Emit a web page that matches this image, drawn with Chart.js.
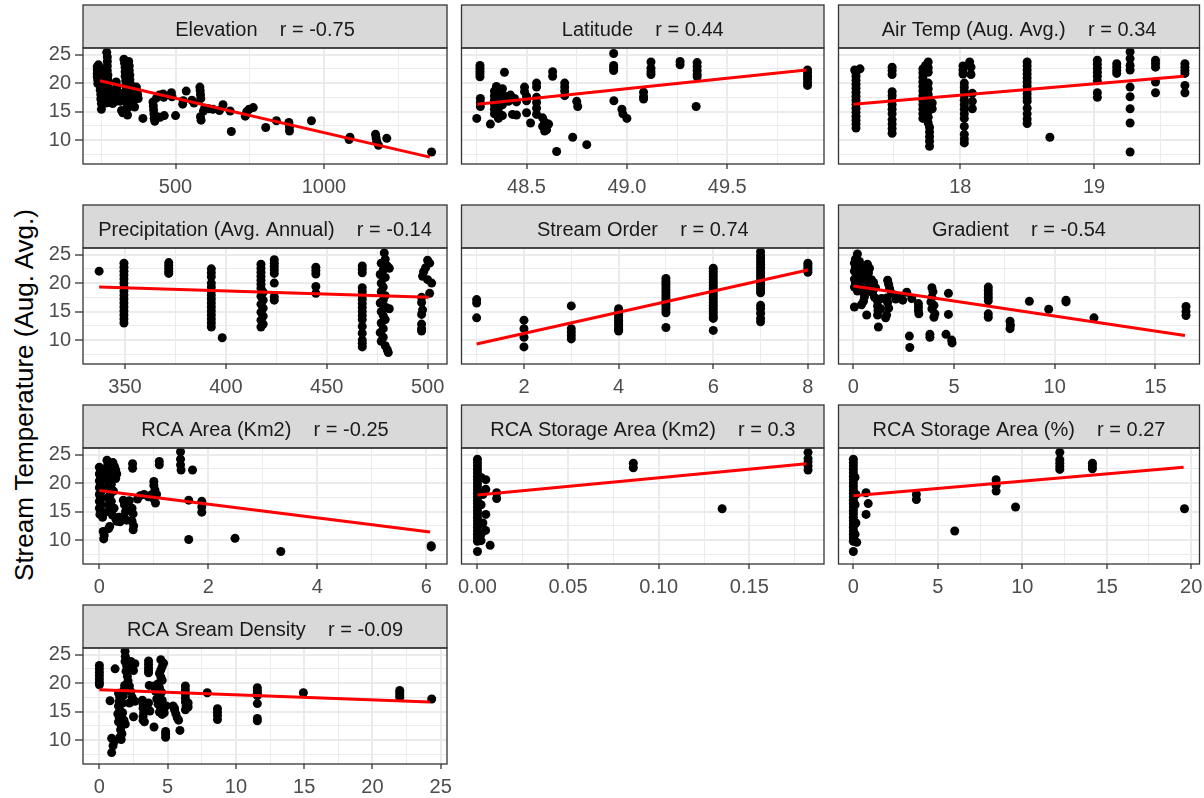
<!DOCTYPE html>
<html>
<head>
<meta charset="utf-8">
<title>Stream temperature vs. site attributes</title>
<script src="https://cdn.jsdelivr.net/npm/chart.js@4.4.1/dist/chart.umd.min.js"></script>
<style>
  html, body { margin: 0; padding: 0; background: #ffffff; }
  body { width: 1204px; height: 798px; position: relative; overflow: hidden; }
  .panel { position: absolute; }
  #ytitle {
    position: absolute; left: 24px; top: 395px;
    transform: translate(-50%, -50%) rotate(-90deg);
    font: 26px "Liberation Sans", Arial, sans-serif; line-height: 1;
    color: #000000; white-space: nowrap;
  }
</style>
</head>
<body>
<div id="ytitle">Stream Temperature (Aug. Avg.)</div>
<script>
// ---- facet labels -------------------------------------------------------
const panelTitles = ['Elevation', 'Latitude', 'Air Temp (Aug. Avg.)',
  'Precipitation (Avg. Annual)', 'Stream Order', 'Gradient',
  'RCA Area (Km2)', 'RCA Storage Area (Km2)', 'RCA Storage Area (%)',
  'RCA Sream Density'];
const rValues = ['-0.75', '0.44', '0.34', '-0.14', '0.74', '-0.54', '-0.25', '0.3', '0.27', '-0.09'];

// ---- shared y scale (stream temperature) --------------------------------
const tempRange = [5.8, 26.16];
const tempTicks = [10, 15, 20, 25];
const tempLabels = ['10', '15', '20', '25'];
const tempMinor = [7.5, 12.5, 17.5, 22.5];

// ---- Elevation ----------------------------------------------------------
const elevationRange = [188, 1415];
const elevationTicks = [500, 1000];
const elevationLabels = ['500', '1000'];
const elevationMinor = [250, 750, 1250];
const elevationFit = [[245, 20.4], [1357, 7.0]];
const elevationPts = [
  [236,22.9],[236,22.3],[236,21.7],[236,21.1],[238,20.5],[238,19.9],[240,23.2],[242,22.6],[242,21.9],[244,21.2],
  [244,20.4],[246,19.6],[246,18.8],[248,18.0],[248,17.2],[250,16.4],[250,15.4],[252,22.0],[254,21.0],[254,20.1],
  [262,19.0],[262,18.2],[262,17.4],[265,16.5],[268,25.4],[270,24.6],[270,23.8],[270,23.0],[270,22.2],[272,21.4],
  [272,20.6],[272,19.8],[274,19.0],[274,18.2],[276,17.4],[278,16.6],[282,18.0],[285,17.2],[288,16.4],[292,18.6],
  [295,17.6],[298,16.8],[300,20.2],[302,19.4],[308,18.4],[310,17.6],[314,16.8],[318,15.2],[322,14.8],[326,24.2],
  [328,23.5],[330,22.8],[330,22.0],[330,21.2],[332,20.4],[332,19.6],[334,18.8],[334,18.0],[336,17.2],[336,16.4],
  [338,15.6],[338,14.4],[342,23.8],[344,23.0],[344,22.2],[346,21.4],[346,20.6],[348,19.8],[348,19.0],[350,18.2],
  [350,17.4],[352,16.6],[355,19.4],[357,18.6],[358,17.8],[360,17.0],[362,15.8],[368,19.3],[370,18.6],[372,18.0],
  [374,17.3],[390,13.8],[424,16.7],[425,16.0],[426,15.3],[427,14.6],[428,13.8],[430,13.3],[436,17.4],[438,14.1],
  [445,17.9],[448,14.0],[458,18.1],[460,17.5],[462,14.3],[486,18.3],[488,17.6],[500,14.3],[524,16.3],[526,16.9],
  [536,18.6],[555,17.0],[562,16.5],[582,19.3],[583,18.7],[584,18.0],[585,17.3],[584,14.1],[586,13.5],[594,15.1],
  [598,15.6],[612,15.5],[626,15.4],[648,15.2],[660,16.2],[684,15.1],[688,11.5],[735,14.2],[740,15.0],[748,15.4],
  [762,15.7],[804,12.2],[840,13.4],[882,13.1],[884,12.3],[884,11.6],[958,13.4],[1085,10.1],[1088,10.5],[1174,11.0],
  [1176,10.4],[1178,9.8],[1184,9.1],[1212,10.3],[1363,7.9]
];

// ---- Latitude -----------------------------------------------------------
const latitudeRange = [48.176, 49.982];
const latitudeTicks = [48.5, 49.0, 49.5];
const latitudeLabels = ['48.5', '49.0', '49.5'];
const latitudeMinor = [48.25, 48.75, 49.25, 49.75];
const latitudeFit = [[48.255, 16.3], [49.894, 22.3]];
const latitudePts = [
  [48.268,23.1],[48.268,22.6],[48.268,22.1],[48.268,21.6],[48.268,21.1],[48.27,17.3],[48.27,16.6],[48.27,15.9],
  [48.252,13.8],[48.32,12.8],[48.34,18.6],[48.34,17.8],[48.34,17.0],[48.34,16.2],[48.34,15.4],[48.34,14.6],
  [48.35,19.4],[48.36,18.2],[48.36,17.3],[48.36,16.4],[48.36,15.5],[48.36,14.6],[48.36,13.8],[48.38,19.0],
  [48.38,18.0],[48.38,17.1],[48.38,16.2],[48.38,14.3],[48.39,21.9],[48.40,17.6],[48.41,16.8],[48.42,17.9],
  [48.43,14.5],[48.44,17.3],[48.45,14.4],[48.45,16.7],[48.49,19.3],[48.49,18.5],[48.50,17.7],[48.50,16.9],
  [48.50,14.8],[48.52,13.0],[48.55,20.0],[48.55,19.3],[48.55,17.5],[48.55,16.6],[48.55,15.6],[48.55,14.5],
  [48.58,13.9],[48.59,13.2],[48.58,12.4],[48.60,11.8],[48.59,11.6],[48.61,12.8],[48.63,22.0],[48.63,21.2],
  [48.65,8.0],[48.69,20.0],[48.69,19.3],[48.69,18.6],[48.69,17.8],[48.73,10.5],[48.75,16.8],[48.755,15.9],
  [48.80,9.2],[48.934,25.2],[48.934,23.1],[48.934,22.7],[48.934,22.2],[48.935,16.9],[48.975,15.4],[48.98,14.6],
  [49.0,13.8],[49.083,18.4],[49.083,17.6],[49.083,17.2],[49.12,23.7],[49.12,22.6],[49.12,22.0],[49.12,21.5],
  [49.265,23.8],[49.265,23.2],[49.35,23.6],[49.35,22.9],[49.35,22.2],[49.35,21.5],[49.35,21.1],[49.345,15.9],
  [49.9,22.3],[49.9,21.8],[49.9,21.2],[49.9,20.7],[49.9,20.1],[49.9,19.6]
];

// ---- Air temperature ----------------------------------------------------
const airRange = [17.089, 19.789];
const airTicks = [18, 19];
const airLabels = ['18', '19'];
const airMinor = [17.5, 18.5, 19.5];
const airFit = [[17.2, 16.3], [19.67, 21.2]];
const airPts = [
  [17.21,22.3],[17.22,21.8],[17.22,21.2],[17.22,20.5],[17.22,19.8],[17.22,19.1],[17.22,18.4],[17.22,17.7],
  [17.22,17.0],[17.22,16.3],[17.22,15.6],[17.22,14.9],[17.22,14.2],[17.22,13.5],[17.22,12.8],[17.22,12.1],
  [17.25,22.5],[17.49,22.8],[17.49,22.2],[17.49,21.5],[17.49,18.5],[17.49,17.8],[17.49,17.0],[17.49,16.2],
  [17.49,15.4],[17.49,14.6],[17.49,13.6],[17.49,12.8],[17.49,12.0],[17.49,11.2],
  [17.72,22.5],[17.72,21.8],[17.72,21.0],[17.72,20.2],[17.72,19.4],[17.72,18.6],[17.72,17.8],[17.72,17.0],
  [17.72,16.2],[17.72,15.4],[17.72,14.6],[17.72,13.8],[17.74,23.1],[17.76,23.7],[17.76,22.7],[17.76,21.9],
  [17.76,20.0],[17.76,19.0],[17.76,18.0],[17.76,17.0],[17.76,16.0],[17.76,15.0],[17.76,14.0],[17.76,13.0],
  [17.77,12.2],[17.77,11.4],[17.77,10.6],[17.77,9.8],[17.77,8.9],[17.79,16.5],[17.79,15.5],
  [18.02,23.0],[18.02,22.3],[18.02,21.6],[18.03,20.0],[18.03,19.3],[18.03,18.6],[18.03,17.8],[18.03,17.0],
  [18.03,16.2],[18.03,15.4],[18.03,14.6],[18.03,13.8],[18.03,12.4],[18.03,11.0],[18.03,10.2],[18.03,9.5],
  [18.07,23.7],[18.08,22.8],[18.08,21.5],[18.09,18.2],[18.09,16.8],[18.09,15.5],
  [18.5,23.7],[18.5,23.0],[18.5,22.3],[18.5,21.6],[18.5,20.9],[18.5,20.2],[18.5,19.5],[18.5,18.8],
  [18.5,18.1],[18.5,17.4],[18.5,16.8],[18.5,15.6],[18.5,14.6],[18.5,13.7],[18.5,12.9],[18.67,10.5],
  [19.025,24.0],[19.025,23.3],[19.025,22.6],[19.025,21.9],[19.025,21.2],[19.025,20.4],[19.025,18.3],[19.025,17.5],
  [19.17,23.4],[19.17,22.8],[19.17,22.2],[19.17,21.7],
  [19.27,25.5],[19.27,24.3],[19.27,23.1],[19.27,22.3],[19.27,19.3],[19.27,17.6],[19.27,15.5],[19.27,13.0],[19.27,7.9],
  [19.46,24.0],[19.46,23.4],[19.46,22.8],[19.46,20.2],[19.46,18.3],
  [19.68,23.4],[19.68,22.8],[19.68,22.2],[19.68,21.7],[19.68,19.6],[19.68,18.3]
];

// ---- Precipitation ------------------------------------------------------
const precipRange = [329.2, 509.6];
const precipTicks = [350, 400, 450, 500];
const precipLabels = ['350', '400', '450', '500'];
const precipMinor = [375, 425, 475];
const precipFit = [[337.2, 19.3], [500.5, 17.5]];
const precipPts = [
  [337.2,22.1],
  [349.5,23.5],[349.5,22.8],[349.5,22.1],[349.5,21.4],[349.5,20.7],[349.5,20.0],[349.5,19.3],[349.5,18.6],
  [349.5,17.9],[349.5,17.2],[349.5,16.5],[349.5,15.8],[349.5,15.1],[349.5,14.4],[349.5,13.7],[349.5,13.0],
  [371.7,23.6],[371.7,23.1],[371.7,22.6],[371.7,22.1],[371.7,21.7],
  [392.8,22.5],[392.8,21.8],[392.8,21.1],[392.8,20.0],[392.8,19.3],[392.8,18.6],[392.8,17.9],[392.8,17.2],
  [392.8,16.5],[392.8,15.8],[392.8,15.1],[392.8,14.4],[392.8,13.7],[392.8,13.0],[392.8,12.3],[398.2,10.4],
  [417.4,23.3],[417.4,22.6],[417.4,21.9],[417.4,21.2],[417.4,20.5],[417.4,19.8],[417.4,19.1],[418.5,18.4],
  [417.4,17.7],[418.5,17.0],[417.4,16.3],[418.5,15.6],[417.4,14.9],[418.5,14.2],[417.4,13.5],[418.5,12.8],[417.4,12.3],
  [424,24.1],[424,23.5],[424,22.9],[424,22.3],[424,21.7],[424,20.0],[424,17.6],[424,17.0],
  [444.6,22.8],[444.6,22.2],[444.6,21.6],[444.6,19.4],[444.6,18.2],
  [467.6,23.0],[467.6,22.4],[467.6,21.8],[467.6,19.2],[467.6,18.5],[467.6,17.8],[467.6,17.1],[467.6,16.4],
  [467.6,15.7],[467.6,15.0],[467.6,14.3],[467.6,13.6],[467.6,12.4],[467.6,11.2],[467.6,10.0],[467.6,9.4],[467.6,8.8],
  [478.5,25.3],[479,24.2],[477,23.5],[480,23.0],[478,22.3],[476.5,21.5],[479,21.0],[477,20.0],[478,19.3],
  [477,18.5],[479,17.8],[478,17.0],[476.5,16.5],[479.5,15.7],[477,15.0],[478,14.3],[479,13.6],[477,13.0],
  [478,12.0],[476.5,11.3],[478,10.5],[477,9.8],[479,9.0],[480,8.3],[480.5,7.8],[481,22.6],[481,15.5],
  [500,24.0],[501,23.5],[499,22.7],[498,22.0],[497.5,21.2],[500,20.6],[502,20.0],[501,18.2],[497,17.5],
  [497,16.6],[497.5,15.3],[497,14.5],[497,12.8],[497,12.0],[497,11.6]
];

// ---- Stream order -------------------------------------------------------
const orderRange = [0.68, 8.34];
const orderTicks = [2, 4, 6, 8];
const orderLabels = ['2', '4', '6', '8'];
const orderMinor = [1, 3, 5, 7];
const orderFit = [[1, 9.3], [8, 22.3]];
const orderPts = [
  [1,17.1],[1,16.5],[1,13.9],
  [2,13.5],[2,12.0],[2,10.5],[2,8.8],
  [3,16.0],[3,12.0],[3,11.4],[3,10.8],[3,10.2],
  [4,15.5],[4,15.1],[4,14.7],[4,14.3],[4,13.9],[4,13.5],[4,13.1],[4,12.7],[4,12.3],[4,11.9],[4,11.6],
  [5,20.8],[5,20.3],[5,19.8],[5,19.3],[5,18.8],[5,18.3],[5,17.8],[5,17.3],[5,16.8],[5,16.3],[5,15.8],
  [5,15.3],[5,14.8],[5,12.2],
  [6,22.6],[6,22.1],[6,21.6],[6,21.1],[6,20.6],[6,20.1],[6,19.6],[6,19.1],[6,18.6],[6,18.1],[6,17.6],
  [6,17.1],[6,16.6],[6,16.1],[6,15.6],[6,15.1],[6,14.6],[6,14.1],[6,13.8],[6,11.7],
  [7,25.5],[7,24.8],[7,24.3],[7,23.8],[7,23.3],[7,22.8],[7,22.3],[7,21.8],[7,21.3],[7,20.8],[7,20.3],
  [7,19.8],[7,19.3],[7,18.8],[7,18.3],[7,16.1],[7,15.5],[7,14.7],[7,13.8],[7,13.2],
  [8,23.5],[8,23.1],[8,22.7],[8,22.3],[8,21.9]
];

// ---- Gradient -----------------------------------------------------------
const gradientRange = [-0.74, 17.19];
const gradientTicks = [0, 5, 10, 15];
const gradientLabels = ['0', '5', '10', '15'];
const gradientMinor = [2.5, 7.5, 12.5];
const gradientFit = [[0, 19.5], [16.47, 10.8]];
const gradientPts = [
  [0.2,25.1],[0.1,24.2],[0.05,23.5],[0.1,22.8],[0.05,22.1],[0.15,21.4],[0.05,20.7],[0.1,20.0],[0.05,19.3],
  [0.2,18.6],[0.3,23.8],[0.35,23.0],[0.3,22.2],[0.4,21.4],[0.35,20.6],[0.3,19.8],[0.45,19.0],[0.5,18.3],
  [0.6,22.5],[0.7,23.3],[0.8,22.6],[0.75,21.8],[0.6,21.0],[0.7,20.3],[0.8,19.5],[0.65,18.6],[0.55,17.6],
  [0.5,16.8],[0.4,16.2],[0.05,15.8],[0.66,14.4],
  [0.9,20.6],[1.0,20.1],[1.1,19.2],[0.95,18.3],[1.05,17.5],[1.2,16.8],[1.2,16.0],[1.22,15.2],[1.2,14.4],
  [1.24,12.3],[1.35,15.5],[1.4,17.3],
  [1.7,20.5],[1.75,19.8],[1.8,19.0],[1.9,18.2],[1.65,17.4],[1.7,16.6],[1.75,15.6],[1.65,14.4],[1.6,13.9],
  [2.1,17.2],[2.3,17.6],[2.45,17.0],[2.65,18.4],[2.9,17.3],[2.78,10.7],[2.8,8.7],
  [3.23,16.4],[3.23,15.8],[3.23,15.2],[3.25,14.6],
  [3.8,11.0],[3.8,10.5],[3.9,19.2],[3.95,18.5],[3.9,17.5],[3.85,16.7],[4.0,16.1],[3.9,15.5],[4.05,14.6],[4.0,14.0],
  [4.6,11.0],[4.72,18.2],[4.72,14.5],[4.88,10.0],[4.9,9.5],
  [6.7,19.3],[6.7,18.7],[6.7,18.1],[6.7,17.5],[6.7,16.9],[6.7,14.6],[6.7,14.0],
  [7.78,13.3],[7.8,12.6],[7.78,12.0],[8.74,16.8],[9.7,15.4],[10.56,17.0],[10.56,16.7],[11.95,13.9],
  [16.52,15.9],[16.52,15.0],[16.52,14.3]
];

// ---- RCA area -----------------------------------------------------------
const areaRange = [-0.3, 6.38];
const areaTicks = [0, 2, 4, 6];
const areaLabels = ['0', '2', '4', '6'];
const areaMinor = [1, 3, 5];
const areaFit = [[0, 18.7], [6.07, 11.4]];
const areaPts = [
  [0.0,22.8],[0.02,22.2],[0.0,21.6],[0.03,21.0],[0.0,20.4],[0.02,19.8],[0.0,19.2],[0.04,18.6],[0.0,18.0],
  [0.02,17.4],[0.0,16.8],[0.04,16.2],[0.0,15.6],[0.03,15.0],[0.01,14.5],[0.06,14.0],[0.07,11.5],[0.09,10.8],[0.08,10.2],
  [0.14,24.0],[0.16,23.4],[0.14,22.8],[0.18,22.2],[0.14,21.6],[0.2,21.0],[0.16,20.4],[0.22,19.8],[0.15,19.2],
  [0.25,23.6],[0.28,22.9],[0.3,22.3],[0.32,21.6],[0.3,20.8],[0.26,18.6],[0.2,18.0],[0.15,17.4],[0.22,16.8],
  [0.18,16.2],[0.27,15.6],[0.15,15.0],[0.24,14.4],[0.3,13.8],[0.32,13.3],[0.17,12.0],[0.19,12.4],
  [0.44,17.0],[0.46,16.2],[0.48,15.0],[0.45,14.2],[0.5,13.5],[0.38,13.2],[0.36,14.0],
  [0.61,23.4],[0.61,22.6],[0.6,15.6],[0.62,14.6],[0.6,13.3],[0.63,12.5],[0.62,11.8],
  [0.55,16.9],[0.7,17.2],[0.75,17.8],[0.82,18.0],[0.9,17.6],[0.95,17.9],
  [1.0,20.3],[1.0,19.6],[1.02,18.8],[1.05,18.0],[1.0,17.2],[1.03,16.5],[1.1,23.8],[1.1,23.2],
  [1.49,25.5],[1.49,24.2],[1.49,23.2],[1.5,22.3],[1.64,10.1],[1.64,17.0],[1.71,22.3],
  [1.88,16.8],[1.88,15.8],[1.88,14.9],[2.49,10.3],[3.33,8.0],[6.09,9.0],[6.09,8.8]
];

// ---- RCA storage area (km2) ---------------------------------------------
const storageKmRange = [-0.0088, 0.1912];
const storageKmTicks = [0, 0.05, 0.10, 0.15];
const storageKmLabels = ['0.00', '0.05', '0.10', '0.15'];
const storageKmMinor = [0.025, 0.075, 0.125, 0.175];
const storageKmFit = [[0, 17.9], [0.1815, 23.4]];
const storageKmPts = [
  [0,24.2],[0,23.6],[0,23.0],[0,22.4],[0,21.8],[0,21.2],[0,20.6],[0,20.0],[0,19.4],[0,18.8],[0,18.2],
  [0,17.6],[0,17.0],[0,16.4],[0,15.8],[0,15.2],[0,14.6],[0,14.0],[0,13.4],[0,12.8],[0,12.2],[0,11.6],
  [0,11.0],[0,10.4],[0,9.8],[0,8.0],
  [0.002,21.0],[0.003,18.0],[0.002,16.2],[0.003,13.0],[0.002,11.0],[0.002,9.9],
  [0.0046,20.6],[0.0046,18.9],[0.0046,14.5],[0.0045,11.7],[0.007,9.1],[0.0106,18.3],[0.0106,17.3],
  [0.086,23.5],[0.086,22.7],[0.135,15.5],
  [0.1824,25.4],[0.1824,24.3],[0.1824,23.7],[0.1824,23.0],[0.1824,22.3]
];

// ---- RCA storage area (%) -----------------------------------------------
const storagePctRange = [-0.88, 20.49];
const storagePctTicks = [0, 5, 10, 15, 20];
const storagePctLabels = ['0', '5', '10', '15', '20'];
const storagePctMinor = [2.5, 7.5, 12.5, 17.5];
const storagePctFit = [[0, 17.8], [19.55, 22.8]];
const storagePctPts = [
  [0,24.2],[0,23.6],[0,23.0],[0,22.4],[0,21.8],[0,21.2],[0,20.6],[0,20.0],[0,19.4],[0,18.8],[0,18.2],
  [0,17.6],[0,17.0],[0,16.4],[0,15.8],[0,15.2],[0,14.6],[0,14.0],[0,13.4],[0,12.8],[0,12.2],[0,11.6],
  [0,11.0],[0,10.4],[0,9.8],[0,8.0],
  [0.1,21.0],[0.15,18.0],[0.1,16.2],[0.15,13.0],[0.1,11.0],[0.2,9.6],
  [0.75,18.3],[0.88,16.4],[0.75,14.5],[3.73,18.0],[3.73,17.1],[6.0,11.6],
  [8.45,20.6],[8.45,19.6],[8.45,18.6],[9.6,15.8],
  [12.22,25.4],[12.22,24.1],[12.22,23.5],[12.22,22.9],[12.22,22.4],
  [14.15,23.5],[14.15,23.0],[14.15,22.5],[19.6,15.5]
];

// ---- RCA stream density -------------------------------------------------
const densityRange = [-1.2, 25.46];
const densityTicks = [0, 5, 10, 15, 20, 25];
const densityLabels = ['0', '5', '10', '15', '20', '25'];
const densityMinor = [2.5, 7.5, 12.5, 17.5, 22.5];
const densityFit = [[0, 18.85], [24.2, 16.7]];
const densityPts = [
  [0,23.1],[0,22.5],[0,21.9],[0,21.3],[0,20.7],[0,20.1],[0,19.7],[0.78,16.9],
  [0.9,10.3],[1.1,9.8],[1.0,9.0],[0.9,7.8],[1.15,22.5],
  [1.4,18.2],[1.5,17.5],[1.45,16.8],[1.4,16.0],[1.5,15.3],[1.35,14.6],[1.45,13.9],[1.4,13.2],[1.6,12.5],
  [1.55,11.8],[1.65,11.1],[1.5,10.5],[1.6,10.1],[1.7,16.5],[1.75,17.8],[1.8,18.8],[1.85,19.6],[1.7,14.8],
  [1.8,13.5],[1.9,12.8],
  [1.88,25.6],[1.9,24.7],[1.88,23.8],[2.0,23.0],[1.95,22.1],[2.05,21.2],[2.1,20.4],
  [2.3,23.8],[2.4,23.0],[2.5,22.2],[2.6,23.4],[2.2,19.5],[2.3,18.5],[2.4,17.5],[2.2,16.5],[2.5,14.1],[2.6,16.8],
  [3.15,17.0],[3.2,16.3],[3.2,15.6],[3.25,14.9],[3.2,14.2],[3.2,13.5],[3.3,13.2],
  [3.6,23.9],[3.6,23.3],[3.6,22.7],[3.6,22.2],[3.6,21.8],[3.65,19.6],[3.6,16.5],[3.7,15.1],
  [4.0,12.3],[4.0,19.5],[4.1,18.6],[4.2,17.2],
  [4.5,24.1],[4.7,23.5],[4.6,22.9],[4.5,22.3],[4.4,21.7],[4.5,21.1],[4.6,20.5],[4.3,19.9],[4.4,19.2],
  [4.55,18.4],[4.4,17.7],[4.6,17.0],[4.3,16.3],[4.5,15.6],[4.4,14.9],[4.6,14.5],[4.75,14.8],[4.85,11.5],
  [4.85,10.5],[4.85,11.0],[4.9,16.0],
  [5.4,16.0],[5.5,15.3],[5.6,14.6],[5.7,13.9],[5.8,13.5],[5.5,15.6],[5.9,11.7],
  [6.3,19.5],[6.3,18.8],[6.3,18.1],[6.3,17.4],[6.3,16.7],[6.35,16.0],[6.3,15.3],[6.5,16.5],[6.5,15.8],
  [7.9,18.3],[8.65,15.5],[8.65,14.9],[8.65,14.3],[8.65,13.6],
  [11.57,19.2],[11.57,18.7],[11.57,18.2],[11.57,17.8],[11.57,16.4],[11.57,13.8],[11.57,13.4],
  [14.94,18.3],[22.0,18.7],[22.0,18.3],[22.0,17.9],[22.0,17.5],[24.34,17.2]
];

// ---- facet assembly -----------------------------------------------------
const panels = [
  { pts: elevationPts, fit: elevationFit, range: elevationRange, ticks: elevationTicks, labels: elevationLabels, minor: elevationMinor },
  { pts: latitudePts, fit: latitudeFit, range: latitudeRange, ticks: latitudeTicks, labels: latitudeLabels, minor: latitudeMinor },
  { pts: airPts, fit: airFit, range: airRange, ticks: airTicks, labels: airLabels, minor: airMinor },
  { pts: precipPts, fit: precipFit, range: precipRange, ticks: precipTicks, labels: precipLabels, minor: precipMinor },
  { pts: orderPts, fit: orderFit, range: orderRange, ticks: orderTicks, labels: orderLabels, minor: orderMinor },
  { pts: gradientPts, fit: gradientFit, range: gradientRange, ticks: gradientTicks, labels: gradientLabels, minor: gradientMinor },
  { pts: areaPts, fit: areaFit, range: areaRange, ticks: areaTicks, labels: areaLabels, minor: areaMinor },
  { pts: storageKmPts, fit: storageKmFit, range: storageKmRange, ticks: storageKmTicks, labels: storageKmLabels, minor: storageKmMinor },
  { pts: storagePctPts, fit: storagePctFit, range: storagePctRange, ticks: storagePctTicks, labels: storagePctLabels, minor: storagePctMinor },
  { pts: densityPts, fit: densityFit, range: densityRange, ticks: densityTicks, labels: densityLabels, minor: densityMinor }
];

// ---- layout & style -----------------------------------------------------
const FONT = '"Liberation Sans", Arial, sans-serif';
const ROW_TOP = [5, 205, 405, 605];      // top edge of each strip
const COL_LEFT = [83, 461, 838];         // left edge of each panel
const COL_W = [364, 363, 363];
const STRIP_H = 43, PLOT_H = 116, XAXIS_H = 36;
const GRID = '#EBEBEB', FRAME = '#333333', STRIP_FILL = '#D9D9D9';

Chart.defaults.font.family = FONT;

function tickList(major, labels, minor) {
  const t = major.map((v, i) => ({ value: v, lbl: labels[i], minor: false }));
  minor.forEach(v => t.push({ value: v, lbl: '', minor: true }));
  return t.sort((a, b) => a.value - b.value);
}

function gridOpts(showTicks, tickLen) {
  return {
    display: true,
    drawOnChartArea: true,
    drawTicks: showTicks,
    tickLength: tickLen,
    color: GRID,
    lineWidth: c => (c.tick && c.tick.minor) ? 1 : 2,
    tickColor: c => (c.tick && c.tick.minor) ? 'rgba(0,0,0,0)' : FRAME,
    tickWidth: 1.3
  };
}

// strip header and panel frame, drawn like facet_wrap
const facetFrame = {
  id: 'facetFrame',
  afterDraw(chart, args, opts) {
    const { ctx, chartArea: a } = chart;
    ctx.save();
    ctx.fillStyle = STRIP_FILL;
    ctx.fillRect(a.left, 1, a.right - a.left, a.top - 1);
    ctx.strokeStyle = FRAME;
    ctx.lineWidth = 1.3;
    ctx.strokeRect(a.left, 1, a.right - a.left, a.top - 1);
    ctx.strokeRect(a.left, a.top, a.right - a.left, a.bottom - a.top);
    ctx.fillStyle = '#1A1A1A';
    ctx.font = '20px ' + FONT;
    ctx.textAlign = 'center';
    ctx.textBaseline = 'alphabetic';
    ctx.fillText(opts.text, (a.left + a.right) / 2, 1 + 31);
    ctx.restore();
  }
};

panels.forEach((p, i) => {
  const row = Math.floor(i / 3), col = i % 3;
  const first = col === 0;
  const padL = first ? 0 : 4;
  const yW = first ? 83 : 0;
  const padR = col === 2 ? 3 : 8;
  const left = first ? 0 : COL_LEFT[col] - 4;
  const top = ROW_TOP[row] - 1;
  const w = padL + yW + COL_W[col] + padR;
  const h = 1 + STRIP_H + PLOT_H + XAXIS_H;

  const wrap = document.createElement('div');
  wrap.className = 'panel';
  wrap.style.left = left + 'px';
  wrap.style.top = top + 'px';
  wrap.style.width = w + 'px';
  wrap.style.height = h + 'px';
  const cv = document.createElement('canvas');
  cv.width = w; cv.height = h;
  cv.style.width = w + 'px'; cv.style.height = h + 'px';
  wrap.appendChild(cv);
  document.body.appendChild(wrap);

  new Chart(cv, {
    type: 'scatter',
    data: {
      datasets: [
        {
          data: p.fit.map(([x, y]) => ({ x, y })),
          showLine: true,
          borderColor: '#FF0000',
          borderWidth: 3,
          pointRadius: 0,
          fill: false,
          order: 0
        },
        {
          data: p.pts.map(([x, y]) => ({ x, y })),
          pointRadius: 4.5,
          pointBackgroundColor: '#000000',
          pointBorderWidth: 0,
          pointBorderColor: '#000000',
          clip: false,
          order: 1
        }
      ]
    },
    options: {
      responsive: false,
      animation: false,
      devicePixelRatio: 1,
      events: [],
      layout: { padding: { top: 1 + STRIP_H, left: padL, right: padR, bottom: 0 } },
      plugins: {
        legend: { display: false },
        tooltip: { enabled: false },
        facetFrame: { text: panelTitles[i] + '    r = ' + rValues[i] }
      },
      scales: {
        x: {
          type: 'linear',
          bounds: 'data',
          min: p.range[0],
          max: p.range[1],
          afterBuildTicks: s => { s.ticks = tickList(p.ticks, p.labels, p.minor); },
          afterFit: s => { s.height = XAXIS_H; s.paddingLeft = 0; s.paddingRight = 0; },
          ticks: {
            autoSkip: false, maxRotation: 0, minRotation: 0,
            padding: 6, color: '#4D4D4D', font: { size: 20, family: FONT },
            callback: (v, idx, ticks) => ticks[idx].lbl
          },
          grid: gridOpts(true, 5),
          border: { display: false }
        },
        y: {
          type: 'linear',
          bounds: 'data',
          min: tempRange[0],
          max: tempRange[1],
          afterBuildTicks: s => { s.ticks = tickList(tempTicks, tempLabels, tempMinor); },
          afterFit: s => { s.width = yW; s.paddingTop = 0; s.paddingBottom = 0; },
          ticks: {
            display: first, autoSkip: false,
            padding: 4, color: '#4D4D4D', font: { size: 20, family: FONT },
            callback: (v, idx, ticks) => ticks[idx].lbl
          },
          grid: gridOpts(first, 8),
          border: { display: false }
        }
      }
    },
    plugins: [facetFrame]
  });
});
</script>
</body>
</html>
